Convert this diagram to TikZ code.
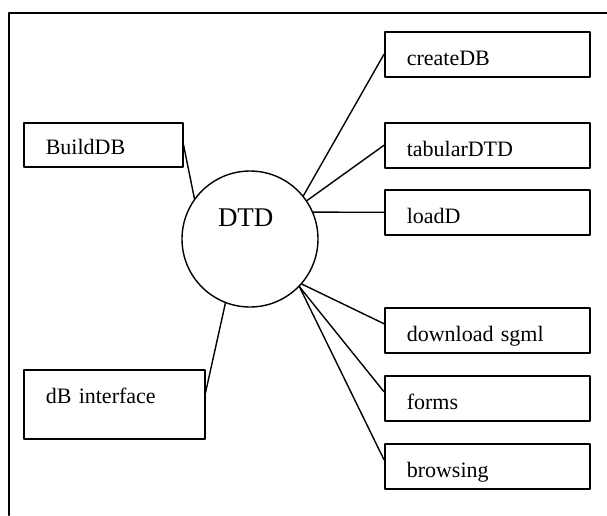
\documentclass[tikz,border=0pt]{standalone}
\usepackage{fontspec}
\setmainfont{Liberation Serif}
\begin{document}
\begin{tikzpicture}[x=1pt,y=-1pt,line cap=round,line join=round,
    box/.style={draw,line width=1.5pt,inner xsep=22pt,inner ysep=0pt,align=left,anchor=north west,font=\fontsize{22}{26}\selectfont},
    rbox/.style={box,text width=161pt,text height=33.5pt,text depth=11.5pt},
    link/.style={line width=1.4pt}]
    \useasboundingbox (0,0) rectangle (607,515);
    % frame
    \draw[line width=2.2pt] (9,515) -- (9,13) -- (607,13);

    % centre
    \node[draw,circle,line width=1.4pt,inner sep=0pt,minimum size=136pt,text width=64pt,align=left,text height=18pt,text depth=44pt,font=\fontsize{27}{30}\selectfont] (dtd) at (250,239) {DTD};

    % left
    \node[box,text width=115pt,text height=32pt,text depth=12pt] (buildDB) at (23,122) {BuildDB};
    \node[box,text width=137pt,text height=34pt,text depth=35pt] (dbint) at (23,369) {dB interface};

    % right
    \node[rbox] (createDB) at (384,31) {createDB};
    \node[rbox] (tabular) at (384,122) {tabularDTD};
    \node[rbox] (loadD) at (384,189) {loadD};
    \node[rbox] (download) at (384,307) {download sgml};
    \node[rbox] (forms) at (384,375) {forms};
    \node[rbox] (browsing) at (384,443) {browsing};

    \draw[link] (dtd.144) -- (buildDB.east);
    \draw[link] (dtd.249) -- ([yshift=11.5pt]dbint.east);
    \draw[link] (dtd.39) -- (createDB.west);
    \draw[link] (dtd.34) -- (tabular.west);
    \draw[link] (dtd.23) -- (loadD.west);
    \draw[link] (dtd.-41) -- ([yshift=6.5pt]download.west);
    \draw[link] (dtd.-44) -- ([yshift=6.5pt]forms.west);
    \draw[link] (dtd.-44) -- ([yshift=6.5pt]browsing.west);
\end{tikzpicture}
\end{document}
